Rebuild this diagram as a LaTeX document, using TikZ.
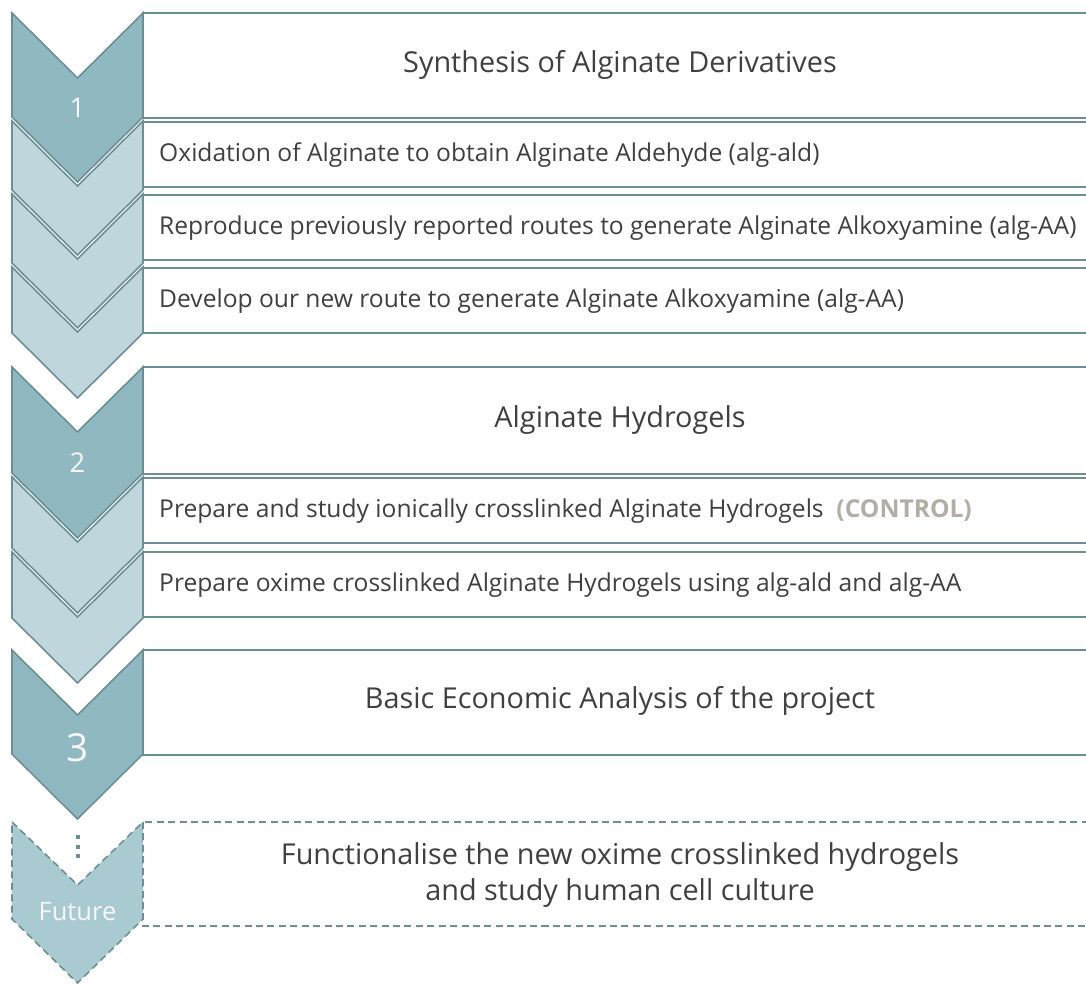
\documentclass[tikz,border=0pt]{standalone}
\usepackage{fontspec}
\setmainfont{Open Sans}
\usepackage{xcolor}
\usetikzlibrary{positioning}

\definecolor{stepdark}{HTML}{8FB8C0}
\definecolor{steplight}{HTML}{BED6DC}
\definecolor{stepfuture}{HTML}{A8CAD0}
\definecolor{edgegray}{HTML}{6C8E95}
\definecolor{txtgray}{HTML}{404040}
\definecolor{ctrlgray}{HTML}{B2AEA5}

\tikzset{
  chev/.style={fill=#1, draw=edgegray, line width=0.9pt, line join=miter},
  taskbox/.style={draw=edgegray, line width=1.1pt, fill=white},
  futdash/.style={dash pattern=on 4pt off 2.5pt},
  headtxt/.style={text=txtgray, font=\fontsize{16.4}{20.5}\selectfont, align=center},
  subtxt/.style={text=txtgray, font=\fontsize{14}{17}\selectfont, anchor=west},
  numtxt/.style={text=white!94!gray, font=\fontsize{15.5}{18}\selectfont}
}

\begin{document}
\begin{tikzpicture}[x=0.02cm, y=-0.02cm]
    \useasboundingbox (0,0) rectangle (1086,985);
    \clip (0,0) rectangle (1086,985);

    % chevrons, section 1
    \filldraw[chev=stepdark]  (12,13)  -- (77.5,78)  -- (143,13)  -- (143,117) -- (77.5,182) -- (12,117) -- cycle;
    \filldraw[chev=steplight] (12,121) -- (77.5,186) -- (143,121) -- (143,190) -- (77.5,255) -- (12,190) -- cycle;
    \filldraw[chev=steplight] (12,194) -- (77.5,259) -- (143,194) -- (143,263) -- (77.5,328) -- (12,263) -- cycle;
    \filldraw[chev=steplight] (12,267) -- (77.5,332) -- (143,267) -- (143,333) -- (77.5,398) -- (12,333) -- cycle;

    % chevrons, section 2
    \filldraw[chev=stepdark]  (12,367) -- (77.5,432) -- (143,367) -- (143,473) -- (77.5,538) -- (12,473) -- cycle;
    \filldraw[chev=steplight] (12,477) -- (77.5,542) -- (143,477) -- (143,548) -- (77.5,613) -- (12,548) -- cycle;
    \filldraw[chev=steplight] (12,552) -- (77.5,617) -- (143,552) -- (143,618) -- (77.5,683) -- (12,618) -- cycle;

    % chevrons, section 3 and future
    \filldraw[chev=stepdark]  (12,650) -- (77.5,715) -- (143,650) -- (143,754) -- (77.5,819) -- (12,754) -- cycle;
    \filldraw[chev=stepfuture, futdash] (12,822) -- (77.5,885) -- (143,822) -- (143,919) -- (77.5,983) -- (12,919) -- cycle;

    % boxes
    \draw[taskbox] (143,13)  rectangle (1100,118);
    \draw[taskbox] (143,122) rectangle (1100,187);
    \draw[taskbox] (143,195) rectangle (1100,260);
    \draw[taskbox] (143,268) rectangle (1100,333);
    \draw[taskbox] (143,367) rectangle (1100,474);
    \draw[taskbox] (143,478) rectangle (1100,543);
    \draw[taskbox] (143,552) rectangle (1100,617);
    \draw[taskbox] (143,650) rectangle (1100,755);
    \draw[taskbox, futdash] (143,822) rectangle (1100,926);

    % numbers
    \node[numtxt] (n1) at (77.5,108) {1};
    \node[numtxt] (n2) at (77.5,463) {2};
    \node[numtxt, font=\fontsize{22}{26}\selectfont] (n3) at (77.5,748) {3};
    \node[numtxt, font=\fontsize{14.5}{17}\selectfont] (nfut) at (77.5,912) {Future};
    \fill[edgegray] (75.5,835) rectangle (79.5,839);
    \fill[edgegray] (75.5,844.5) rectangle (79.5,848.5);
    \fill[edgegray] (75.5,854) rectangle (79.5,858);

    % texts
    \node[headtxt] (h1) at (620,65) {Synthesis of Alginate Derivatives};
    \node[subtxt] (s1a) at (153,155) {Oxidation of Alginate to obtain Alginate Aldehyde (alg-ald)};
    \node[subtxt] (s1b) at (153,228) {Reproduce previously reported routes to generate Alginate Alkoxyamine (alg-AA)};
    \node[subtxt] (s1c) at (153,301) {Develop our new route to generate Alginate Alkoxyamine (alg-AA)};

    \node[headtxt] (h2) at (620,420) {Alginate Hydrogels};
    \node[subtxt] (s2a) at (153,511) {Prepare and study ionically crosslinked Alginate Hydrogels~ \textcolor{ctrlgray}{\textbf{(CONTROL)}}};
    \node[subtxt] (s2b) at (153,585) {Prepare oxime crosslinked Alginate Hydrogels using alg-ald and alg-AA};

    \node[headtxt] (h3) at (620,701) {Basic Economic Analysis of the project};
    \node[headtxt] (hf) at (620,875) {Functionalise the new oxime crosslinked hydrogels\\and study human cell culture};
\end{tikzpicture}
\end{document}
